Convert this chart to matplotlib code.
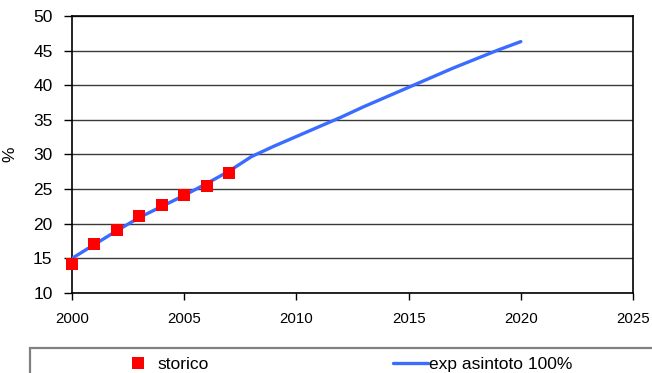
import matplotlib
matplotlib.use("Agg")
import matplotlib.pyplot as plt
from matplotlib.patches import Rectangle

plt.rcParams['font.family'] = ['Liberation Sans', 'DejaVu Sans']

# Historical share (%)
hist_years = [2000, 2001, 2002, 2003, 2004, 2005, 2006, 2007]
hist_values = [14.2, 17.1, 19.1, 21.1, 22.7, 24.1, 25.5, 27.4]

# Exponential projection with 100% asymptote
proj_years = list(range(2000, 2021))
proj_values = [15.0, 17.0, 19.0, 20.9, 22.5, 24.1, 25.8, 27.6, 29.7, 31.2,
               32.6, 34.0, 35.4, 36.9, 38.3, 39.7, 41.1, 42.5, 43.8, 45.1, 46.3]

x_ticks = [2000, 2005, 2010, 2015, 2020, 2025]
y_ticks = [10, 15, 20, 25, 30, 35, 40, 45, 50]

W, H = 652, 373
fig = plt.figure(figsize=(W / 100, H / 100), dpi=100)
ax = fig.add_axes([72 / W, 1 - 293 / H, (633 - 72) / W, (293 - 16) / H])

ax.set_xlim(2000, 2025)
ax.set_ylim(10, 50)
ax.set_xticks(x_ticks)
ax.set_yticks(y_ticks)
ax.yaxis.grid(True, color='#3a3a3a', linewidth=1.0)
ax.set_axisbelow(True)

for s in ax.spines.values():
    s.set_color('black')
    s.set_linewidth(1.2)

ax.tick_params(axis='y', direction='out', length=6, width=1.0, pad=8, labelsize=12.5)
ax.tick_params(axis='x', direction='out', length=5, width=1.0, pad=9, labelsize=10.8)
ax.set_ylabel('%', fontsize=12.5)
ax.yaxis.set_label_coords(-0.098, 0.5)

line, = ax.plot(proj_years, proj_values, color='#3a6cff', linewidth=2.4,
                solid_capstyle='round', zorder=3, label='exp asintoto 100%')
pts, = ax.plot(hist_years, hist_values, linestyle='none', marker='s',
               markersize=8.5, color='#ff0000', markeredgewidth=0, zorder=4,
               clip_on=False, label='storico')

# Legend frame, partly running off the lower-right edge
fig.add_artist(Rectangle((30 / W, -0.2), (720 - 30) / W, 0.2 + (373 - 348) / H,
                         transform=fig.transFigure, fill=False,
                         edgecolor='#808080', linewidth=1.6, clip_on=False))

fig.legend(handles=[pts, line], ncol=2, loc='center left',
           bbox_to_anchor=(121 / W, (373 - 364) / H), bbox_transform=fig.transFigure,
           frameon=False, fontsize=12.5, handlelength=2.0, handletextpad=0.1,
           columnspacing=10.6, borderpad=0, borderaxespad=0)

fig.savefig('out.png', dpi=100)
